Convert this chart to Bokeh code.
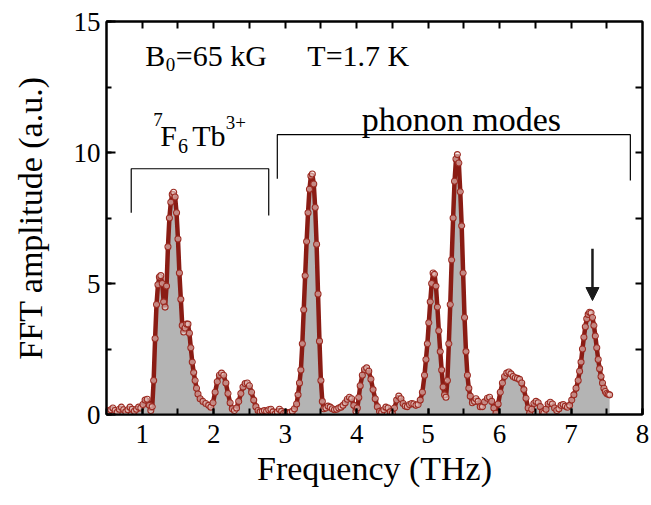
from bokeh.plotting import figure
from bokeh.models import (Range1d, LinearAxis, SingleIntervalTicker, FixedTicker,
                          Label, Arrow, NormalHead, ColumnDataSource)
from bokeh.embed import file_html
from bokeh.resources import INLINE

# ---- data (frequency THz, FFT amplitude a.u.) ----
freq = [0.50, 0.53, 0.56, 0.59, 0.62, 0.65, 0.68, 0.71, 0.74, 0.77, 0.80, 0.83,
        0.86, 0.89, 0.92, 0.95, 0.98, 1.01, 1.04, 1.07, 1.10, 1.12, 1.14, 1.16,
        1.18, 1.20, 1.22, 1.24, 1.26, 1.28, 1.30, 1.32, 1.34, 1.36, 1.38, 1.40,
        1.42, 1.44, 1.46, 1.48, 1.50, 1.52, 1.54, 1.56, 1.58, 1.60, 1.62, 1.64,
        1.66, 1.68, 1.70, 1.72, 1.74, 1.76, 1.78, 1.81, 1.85, 1.89, 1.93, 1.96,
        1.99, 2.02, 2.05, 2.08, 2.11, 2.14, 2.17, 2.20, 2.23, 2.26, 2.29, 2.32,
        2.35, 2.38, 2.41, 2.44, 2.47, 2.50, 2.53, 2.56, 2.59, 2.62, 2.65, 2.68,
        2.71, 2.74, 2.77, 2.80, 2.83, 2.86, 2.89, 2.92, 2.95, 2.98, 3.01, 3.04,
        3.07, 3.10, 3.13, 3.16, 3.18, 3.20, 3.22, 3.24, 3.26, 3.28, 3.30, 3.32,
        3.34, 3.36, 3.38, 3.40, 3.42, 3.44, 3.46, 3.48, 3.50, 3.52, 3.54, 3.57,
        3.60, 3.63, 3.66, 3.69, 3.72, 3.75, 3.78, 3.81, 3.84, 3.87, 3.90, 3.93,
        3.96, 3.99, 4.01, 4.03, 4.05, 4.08, 4.11, 4.14, 4.17, 4.20, 4.23, 4.26,
        4.29, 4.32, 4.35, 4.38, 4.41, 4.44, 4.47, 4.50, 4.53, 4.56, 4.59, 4.62,
        4.65, 4.68, 4.71, 4.74, 4.77, 4.80, 4.83, 4.86, 4.89, 4.92, 4.95, 4.97,
        4.99, 5.01, 5.03, 5.05, 5.07, 5.09, 5.11, 5.13, 5.15, 5.17, 5.19, 5.21,
        5.23, 5.25, 5.27, 5.29, 5.31, 5.33, 5.35, 5.37, 5.39, 5.41, 5.43, 5.45,
        5.47, 5.49, 5.51, 5.53, 5.55, 5.57, 5.59, 5.62, 5.65, 5.67, 5.70, 5.73,
        5.76, 5.79, 5.83, 5.86, 5.89, 5.92, 5.95, 5.98, 6.01, 6.04, 6.07, 6.10,
        6.13, 6.16, 6.19, 6.22, 6.25, 6.28, 6.31, 6.34, 6.37, 6.40, 6.42, 6.45,
        6.48, 6.51, 6.54, 6.57, 6.60, 6.62, 6.65, 6.68, 6.71, 6.74, 6.77, 6.80,
        6.83, 6.86, 6.89, 6.92, 6.95, 6.98, 7.01, 7.04, 7.07, 7.10, 7.12, 7.14,
        7.16, 7.18, 7.20, 7.22, 7.24, 7.26, 7.28, 7.30, 7.32, 7.34, 7.36, 7.38,
        7.40, 7.42, 7.44, 7.46, 7.48, 7.50, 7.52, 7.54]
amp = [0.15, 0.10, 0.18, 0.25, 0.15, 0.08, 0.20, 0.28, 0.18, 0.10, 0.18, 0.28,
       0.20, 0.12, 0.20, 0.28, 0.25, 0.38, 0.55, 0.58, 0.35, 0.15, 0.30, 1.30,
       2.90, 4.20, 4.95, 5.25, 5.30, 5.00, 4.30, 4.10, 4.90, 6.40, 7.50, 8.10,
       8.40, 8.48, 8.30, 7.70, 6.70, 5.40, 4.40, 3.40, 3.15, 3.30, 3.45, 3.45,
       3.10, 2.55, 2.00, 1.60, 1.30, 1.00, 0.78, 0.60, 0.50, 0.42, 0.35, 0.28,
       0.45, 0.85, 1.25, 1.50, 1.58, 1.50, 1.20, 0.80, 0.45, 0.22, 0.15, 0.25,
       0.50, 0.80, 1.05, 1.18, 1.20, 1.10, 0.85, 0.55, 0.30, 0.15, 0.10, 0.12,
       0.15, 0.12, 0.18, 0.20, 0.10, 0.02, 0.10, 0.20, 0.12, 0.05, 0.08, 0.05,
       0.08, 0.12, 0.22, 0.40, 0.75, 1.20, 1.70, 2.70, 4.00, 5.30, 6.60, 7.70,
       8.60, 9.10, 9.18, 8.80, 7.90, 6.50, 4.60, 2.80, 1.30, 0.50, 0.22, 0.25,
       0.32, 0.28, 0.22, 0.18, 0.20, 0.25, 0.28, 0.35, 0.45, 0.58, 0.66, 0.60,
       0.35, 0.12, 0.25, 0.65, 1.10, 1.50, 1.72, 1.78, 1.65, 1.35, 0.95, 0.60,
       0.30, 0.12, 0.08, 0.18, 0.28, 0.25, 0.10, 0.05, 0.25, 0.55, 0.70, 0.60,
       0.42, 0.32, 0.30, 0.38, 0.42, 0.40, 0.35, 0.38, 0.55, 0.85, 1.50, 2.10,
       2.70, 3.50, 4.30, 5.00, 5.40, 5.35, 4.90, 4.10, 3.20, 2.40, 1.70, 1.05,
       0.75, 0.66, 1.30, 2.70, 4.20, 5.90, 7.50, 8.90, 9.75, 9.92, 9.60, 8.50,
       7.20, 5.40, 3.70, 2.40, 1.50, 1.00, 0.70, 0.45, 0.50, 0.60, 0.50, 0.30,
       0.30, 0.48, 0.62, 0.66, 0.50, 0.25, 0.05, 0.40, 0.85, 1.20, 1.45, 1.58,
       1.62, 1.55, 1.45, 1.40, 1.38, 1.34, 1.20, 0.95, 0.62, 0.25, 0.05, 0.20,
       0.42, 0.50, 0.45, 0.30, 0.10, 0.05, 0.20, 0.40, 0.47, 0.40, 0.25, 0.15,
       0.22, 0.35, 0.38, 0.32, 0.28, 0.35, 0.55, 0.75, 1.00, 1.30, 1.65, 2.00,
       2.50, 2.95, 3.35, 3.65, 3.82, 3.90, 3.88, 3.70, 3.40, 3.00, 2.55, 2.10,
       1.75, 1.45, 1.20, 1.00, 0.88, 0.80, 0.77, 0.75]

# annotation geometry (data units)
crystal_bracket_x = [0.846, 0.846, 2.77, 2.77]
crystal_bracket_y = [7.70, 9.38, 9.38, 7.60]
phonon_bracket_x = [2.89, 2.89, 7.83, 7.83]
phonon_bracket_y = [9.00, 10.68, 10.68, 8.93]
arrow_x = 7.30
arrow_y = [6.33, 4.35]

# mirrored tick positions (top / right frame edges)
top_ticks = [1.0, 1.5, 2.0, 2.5, 3.0, 3.5, 4.0, 4.5, 5.0, 5.5, 6.0, 6.5, 7.0, 7.5]
right_ticks = [2.5, 5.0, 7.5, 10.0, 12.5]

SERIF = "Liberation Serif"

p = figure(width=651, height=505, output_backend="svg", toolbar_location=None,
           x_range=Range1d(0.5, 8), y_range=Range1d(0, 15),
           min_border_left=106, min_border_right=9, min_border_top=21,
           min_border_bottom=91, background_fill_color="white",
           border_fill_color="white")
p.xgrid.visible = False
p.ygrid.visible = False
p.outline_line_color = "black"
p.outline_line_width = 2

src = ColumnDataSource(data=dict(f=freq, a=amp, z=[0] * len(freq)))
p.varea(x="f", y1="z", y2="a", source=src, fill_color="#b4b4b4")
p.line(x="f", y="a", source=src, line_color="#8a1c14", line_width=4.5)
p.scatter(x="f", y="a", source=src, size=6, marker="circle",
          line_color="#9c2b22", fill_color="#f4e2de", fill_alpha=0.55,
          line_width=1.1)

p.line(crystal_bracket_x, crystal_bracket_y, line_color="black", line_width=1.2)
p.line(phonon_bracket_x, phonon_bracket_y, line_color="black", line_width=1.2)

p.add_layout(Arrow(x_start=arrow_x, y_start=arrow_y[0], x_end=arrow_x,
                   y_end=arrow_y[1], line_color="#1a1a1a", line_width=2.5,
                   end=NormalHead(size=13, fill_color="#1a1a1a",
                                  line_color="#1a1a1a")))

def lab(x, y, t, size, align="left"):
    p.add_layout(Label(x=x, y=y, text=t, text_font=SERIF,
                       text_font_size=f"{size}px", text_color="black",
                       text_baseline="alphabetic", text_align=align))

lab(1.043, 13.70, "B", 30)
lab(1.33, 13.35, "0", 19)
lab(1.47, 13.70, "=65 kG", 30)
lab(3.31, 13.70, "T=1.7 K", 30)
lab(1.155, 11.26, "7", 19)
lab(1.253, 10.65, "F", 30)
lab(1.50, 10.24, "6", 20)
lab(1.70, 10.65, "Tb", 30)
lab(2.17, 11.16, "3+", 19)
lab(5.466, 11.25, "phonon modes", 34, "center")

def style(ax, labels=True, major_len=6, minor_len=6):
    ax.axis_line_width = 2
    ax.axis_line_color = "black"
    ax.major_tick_line_width = 2
    ax.minor_tick_line_width = 2
    ax.major_tick_line_color = "black"
    ax.minor_tick_line_color = "black"
    ax.major_tick_in = major_len
    ax.major_tick_out = 0
    ax.minor_tick_in = minor_len
    ax.minor_tick_out = 0
    if labels:
        ax.major_label_text_font = SERIF
        ax.major_label_text_font_size = "27px"
        ax.major_label_text_color = "black"
        ax.axis_label_text_font = SERIF
        ax.axis_label_text_font_size = "34px"
        ax.axis_label_text_font_style = "normal"
        ax.axis_label_text_color = "black"

p.xaxis.ticker = SingleIntervalTicker(interval=1, num_minor_ticks=2)
p.yaxis.ticker = SingleIntervalTicker(interval=5, num_minor_ticks=2)
p.xaxis.axis_label = "Frequency (THz)"
p.yaxis.axis_label = "FFT amplitude (a.u.)"
style(p.xaxis[0], True, 6, 6)
style(p.yaxis[0], True, 9, 5)
p.xaxis.major_label_standoff = 10
p.xaxis.axis_label_standoff = 4
p.yaxis.major_label_standoff = 6
p.yaxis.axis_label_standoff = 22

top = LinearAxis(ticker=FixedTicker(ticks=[], minor_ticks=top_ticks))
right = LinearAxis(ticker=FixedTicker(ticks=[], minor_ticks=right_ticks))
style(top, False, 7, 7)
style(right, False, 7, 7)
p.add_layout(top, "above")
p.add_layout(right, "right")

open("out.html", "w").write(file_html(p, INLINE))
